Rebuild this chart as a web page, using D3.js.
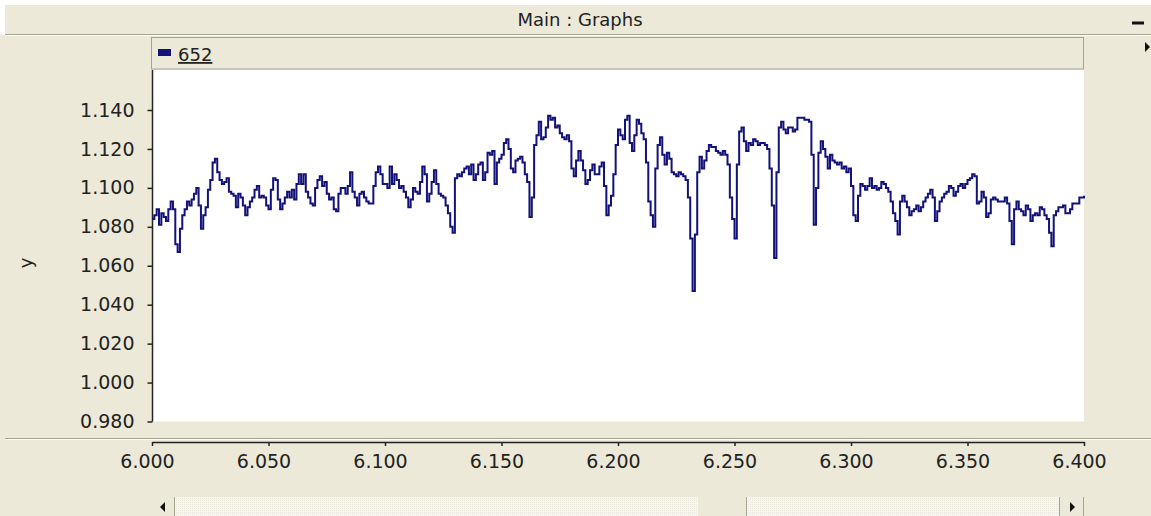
<!DOCTYPE html>
<html>
<head>
<meta charset="utf-8">
<script src="https://cdn.jsdelivr.net/npm/d3@7/dist/d3.min.js"></script>
<style>
  body { margin: 0; background: #fff; }
  svg { display: block; font-family: "DejaVu Sans", sans-serif; }
</style>
</head>
<body>
<div id="chart-area"></div>
<script>
// data, one value every 0.001 on x
const X_START = 6.0
const X_STEP = 0.001
const values = [
  1.084, 1.086, 1.089, 1.081, 1.087, 1.085, 1.083, 1.089, 1.093, 1.089,
  1.071, 1.067, 1.079, 1.086, 1.089, 1.093, 1.091, 1.094, 1.097, 1.100,
  1.091, 1.079, 1.086, 1.090, 1.099, 1.104, 1.113, 1.115, 1.108, 1.104,
  1.102, 1.103, 1.105, 1.098, 1.097, 1.096, 1.090, 1.097, 1.095, 1.091,
  1.086, 1.090, 1.093, 1.095, 1.099, 1.101, 1.095, 1.096, 1.095, 1.091,
  1.089, 1.099, 1.105, 1.104, 1.094, 1.089, 1.092, 1.095, 1.098, 1.095,
  1.099, 1.094, 1.102, 1.107, 1.102, 1.107, 1.098, 1.095, 1.092, 1.091,
  1.100, 1.104, 1.106, 1.101, 1.103, 1.097, 1.094, 1.095, 1.089, 1.088,
  1.097, 1.100, 1.100, 1.097, 1.101, 1.108, 1.098, 1.095, 1.091, 1.097,
  1.098, 1.095, 1.093, 1.092, 1.092, 1.101, 1.108, 1.111, 1.107, 1.102,
  1.102, 1.100, 1.111, 1.102, 1.107, 1.104, 1.100, 1.101, 1.098, 1.095,
  1.090, 1.094, 1.100, 1.098, 1.097, 1.103, 1.111, 1.107, 1.093, 1.097,
  1.103, 1.109, 1.102, 1.097, 1.096, 1.095, 1.091, 1.087, 1.080, 1.077,
  1.105, 1.107, 1.106, 1.108, 1.110, 1.111, 1.107, 1.112, 1.104, 1.107,
  1.112, 1.113, 1.104, 1.108, 1.118, 1.117, 1.119, 1.102, 1.113, 1.115,
  1.117, 1.123, 1.125, 1.120, 1.110, 1.108, 1.114, 1.115, 1.116, 1.113,
  1.107, 1.103, 1.085, 1.095, 1.122, 1.127, 1.134, 1.125, 1.126, 1.131,
  1.137, 1.135, 1.136, 1.131, 1.132, 1.128, 1.126, 1.125, 1.127, 1.124,
  1.110, 1.106, 1.114, 1.119, 1.114, 1.109, 1.102, 1.104, 1.109, 1.112,
  1.107, 1.107, 1.111, 1.113, 1.101, 1.086, 1.091, 1.096, 1.107, 1.122,
  1.130, 1.127, 1.125, 1.135, 1.137, 1.123, 1.119, 1.127, 1.135, 1.133,
  1.128, 1.125, 1.113, 1.093, 1.086, 1.080, 1.110, 1.122, 1.126, 1.117,
  1.112, 1.118, 1.115, 1.108, 1.107, 1.106, 1.108, 1.107, 1.106, 1.104,
  1.095, 1.074, 1.047, 1.076, 1.108, 1.116, 1.110, 1.114, 1.119, 1.122,
  1.121, 1.121, 1.119, 1.118, 1.117, 1.119, 1.117, 1.112, 1.095, 1.084,
  1.074, 1.112, 1.129, 1.131, 1.124, 1.119, 1.123, 1.122, 1.125, 1.124,
  1.122, 1.123, 1.123, 1.122, 1.120, 1.110, 1.091, 1.064, 1.108, 1.131,
  1.134, 1.130, 1.128, 1.131, 1.131, 1.129, 1.130, 1.136, 1.136, 1.136,
  1.135, 1.135, 1.134, 1.117, 1.081, 1.100, 1.118, 1.124, 1.120, 1.116,
  1.110, 1.117, 1.114, 1.113, 1.112, 1.113, 1.110, 1.111, 1.108, 1.110,
  1.101, 1.086, 1.083, 1.096, 1.102, 1.101, 1.099, 1.101, 1.105, 1.100,
  1.101, 1.099, 1.100, 1.103, 1.102, 1.100, 1.098, 1.093, 1.087, 1.083,
  1.076, 1.093, 1.096, 1.093, 1.090, 1.086, 1.088, 1.089, 1.091, 1.088,
  1.090, 1.093, 1.095, 1.097, 1.099, 1.095, 1.083, 1.088, 1.093, 1.095,
  1.097, 1.098, 1.101, 1.100, 1.096, 1.098, 1.101, 1.102, 1.100, 1.102,
  1.104, 1.105, 1.107, 1.106, 1.092, 1.093, 1.098, 1.095, 1.085, 1.087,
  1.094, 1.095, 1.094, 1.093, 1.093, 1.093, 1.095, 1.092, 1.083, 1.071,
  1.089, 1.093, 1.089, 1.088, 1.086, 1.091, 1.089, 1.083, 1.086, 1.087,
  1.086, 1.090, 1.089, 1.086, 1.084, 1.077, 1.070, 1.086, 1.088, 1.090,
  1.090, 1.091, 1.087, 1.087, 1.089, 1.092, 1.092, 1.092, 1.095, 1.095,
  1.096
]
const xTicks = [6.0, 6.05, 6.1, 6.15, 6.2, 6.25, 6.3, 6.35, 6.4]
const yTicks = [0.98, 1.0, 1.02, 1.04, 1.06, 1.08, 1.1, 1.12, 1.14]
const seriesName = "652"

const W = 1151, H = 516
const BG = "#ece9d8"
const LINE = "#12127a"
const PLOT = { LEFT: 152, RIGHT: 1084, TOP: 70, BOTTOM: 421 }

const svg = d3.select("#chart-area").append("svg")
  .attr("width", W)
  .attr("height", H)

// window background
svg.append("rect").attr("x", 0).attr("y", 35).attr("width", W).attr("height", H - 35).attr("fill", BG)
svg.append("rect").attr("x", 5).attr("y", 5).attr("width", W - 5).attr("height", 29).attr("fill", BG)
svg.append("line").attr("x1", 5).attr("x2", W).attr("y1", 34.5).attr("y2", 34.5).attr("stroke", "#a5a392")
svg.append("line").attr("x1", 5).attr("x2", W).attr("y1", 35.5).attr("y2", 35.5).attr("stroke", "#fff")

// title bar
svg.append("text")
  .attr("x", 580).attr("y", 26)
  .attr("text-anchor", "middle")
  .attr("font-size", "18px")
  .attr("fill", "#222")
  .text("Main : Graphs")
svg.append("line").attr("x1", 1132).attr("x2", 1144).attr("y1", 23).attr("y2", 23)
  .attr("stroke", "#111").attr("stroke-width", 3)
svg.append("path").attr("d", "M1145,42 L1150,47 L1145,52 Z").attr("fill", "#111")

// legend bar
svg.append("rect")
  .attr("x", PLOT.LEFT - 0.5).attr("y", 37.5)
  .attr("width", PLOT.RIGHT - PLOT.LEFT).attr("height", 31.5)
  .attr("fill", BG).attr("stroke", "#a5a392")
svg.append("rect").attr("x", 158).attr("y", 49).attr("width", 13).attr("height", 7).attr("fill", LINE)
svg.append("text")
  .attr("x", 178).attr("y", 61)
  .attr("font-size", "18px")
  .attr("fill", "#222")
  .attr("text-decoration", "underline")
  .text(seriesName)

// plot area
svg.append("rect")
  .attr("x", PLOT.LEFT).attr("y", PLOT.TOP)
  .attr("width", PLOT.RIGHT - PLOT.LEFT).attr("height", PLOT.BOTTOM - PLOT.TOP + 0.5)
  .attr("fill", "#fff")

const x = d3.scaleLinear().domain([6.0, 6.4]).range([PLOT.LEFT, PLOT.RIGHT])
const y = d3.scaleLinear().domain([0.98, 1.14]).range([421.5, 110])

// y axis
const yAxis = svg.append("g")
  .attr("transform", `translate(${PLOT.LEFT + 0.5}, 0)`)
  .call(d3.axisLeft(y).tickValues(yTicks).tickFormat(d3.format(".3f")).tickSize(5).tickPadding(13).tickSizeOuter(0))
yAxis.select(".domain").attr("d", `M0,${PLOT.TOP}V${PLOT.BOTTOM + 0.5}`).attr("stroke", "#222").attr("stroke-width", 1.5)
yAxis.selectAll(".tick line").attr("stroke", "#222").attr("stroke-width", 1.5)
yAxis.selectAll("text").attr("font-size", "19px").attr("fill", "#222").attr("font-family", "DejaVu Sans")

svg.append("text")
  .attr("transform", "translate(32, 263) rotate(-90)")
  .attr("text-anchor", "middle")
  .attr("font-size", "18px")
  .attr("fill", "#222")
  .text("y")

// series, drawn as steps
const data = values.map((v, i) => ({ x: X_START + i * X_STEP, y: v }))
const line = d3.line()
  .x(d => x(d.x))
  .y(d => y(d.y))
  .curve(d3.curveStepAfter)
svg.append("path")
  .datum(data)
  .attr("fill", "none")
  .attr("stroke", LINE)
  .attr("stroke-width", 2)
  .attr("d", line)

// separator above x axis
svg.append("line").attr("x1", 5).attr("x2", W).attr("y1", 438.5).attr("y2", 438.5).attr("stroke", "#a5a392")
svg.append("line").attr("x1", 5).attr("x2", W).attr("y1", 439.5).attr("y2", 439.5).attr("stroke", "#fff")

// x axis
const xAxis = svg.append("g")
  .attr("transform", "translate(0, 442)")
  .call(d3.axisBottom(x).tickValues(xTicks).tickFormat(d3.format(".3f")).tickSize(4).tickPadding(9).tickSizeOuter(0))
xAxis.select(".domain").attr("stroke", "#222").attr("stroke-width", 1.5)
xAxis.selectAll(".tick line").attr("stroke", "#222").attr("stroke-width", 1.5)
xAxis.selectAll("text").attr("font-size", "19px").attr("fill", "#222").attr("dx", -5).attr("font-family", "DejaVu Sans")

// scrollbar
const defs = svg.append("defs")
const pat = defs.append("pattern").attr("id", "hatch").attr("width", 2).attr("height", 2).attr("patternUnits", "userSpaceOnUse")
pat.append("rect").attr("width", 2).attr("height", 2).attr("fill", "#f7f6f1")
pat.append("rect").attr("width", 1).attr("height", 1).attr("fill", "#e9e7dc")
svg.append("rect").attr("x", 152).attr("y", 497).attr("width", 932).attr("height", 19).attr("fill", "url(#hatch)")
svg.append("rect").attr("x", 152).attr("y", 497).attr("width", 23).attr("height", 19).attr("fill", BG)
svg.append("line").attr("x1", 174.5).attr("x2", 174.5).attr("y1", 497).attr("y2", 516).attr("stroke", "#a5a392")
svg.append("path").attr("d", "M160,507 L165,502 L165,512 Z").attr("fill", "#111")
svg.append("rect").attr("x", 698).attr("y", 497).attr("width", 49).attr("height", 19).attr("fill", BG)
svg.append("line").attr("x1", 746.5).attr("x2", 746.5).attr("y1", 497).attr("y2", 516).attr("stroke", "#a5a392")
svg.append("rect").attr("x", 1059).attr("y", 497).attr("width", 25).attr("height", 19).attr("fill", BG)
svg.append("line").attr("x1", 1059.5).attr("x2", 1059.5).attr("y1", 497).attr("y2", 516).attr("stroke", "#a5a392")
svg.append("line").attr("x1", 1083.5).attr("x2", 1083.5).attr("y1", 497).attr("y2", 516).attr("stroke", "#a5a392")
svg.append("path").attr("d", "M1075,507 L1070,502 L1070,512 Z").attr("fill", "#111")
</script>
</body>
</html>
